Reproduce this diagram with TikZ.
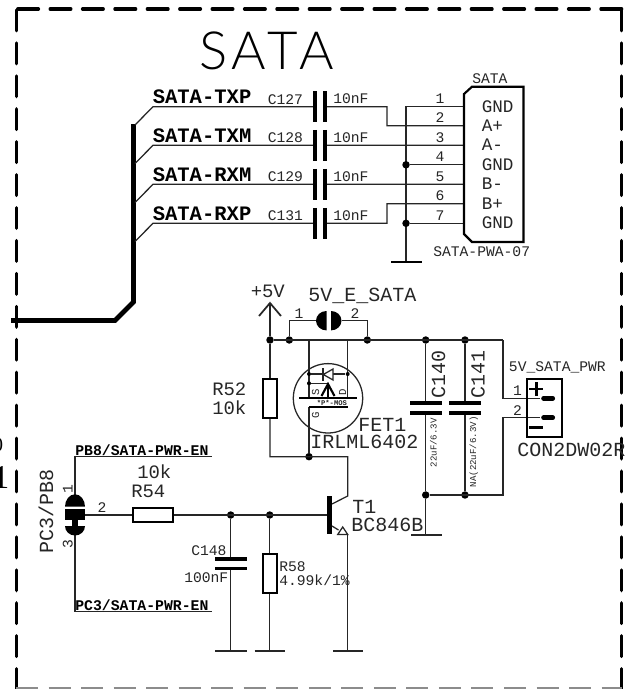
\documentclass[tikz,border=0pt]{standalone}
\usepackage{fontspec}
\setmainfont{Liberation Sans}
\setmonofont{Liberation Mono}
\newfontfamily\serifcut{Liberation Serif}
\newfontfamily\titlef[LetterSpace=9.5]{Lato Light}
\tikzset{
  wire/.style={line width=0.95pt,draw=black!85},
  thick wire/.style={line width=3.7pt,draw=black,line cap=butt,line join=miter},
  bordV/.style={line width=2.4pt,draw=black,line cap=round,dash pattern=on 15.6pt off 9.1pt},
  bordH/.style={line width=2.4pt,draw=black,line cap=round,dash pattern=on 15.6pt off 8.7pt},
  bordB/.style={line width=0.9pt,draw=black!45,dash pattern=on 16.5pt off 7.9pt},
  plate/.style={line width=2.8pt,draw=black},
  outline/.style={line width=1.6pt,draw=black,fill=white},
  jdot/.style={circle,fill=black,inner sep=0pt,minimum size=5.6pt},
  sdot/.style={circle,fill=black,inner sep=0pt,minimum size=3pt},
  lbl/.style={inner sep=0pt,anchor=base west,text=black!85},
  big/.style={lbl,text=black,font=\titlef\fontsize{39.5}{40}\selectfont},
  f20/.style={lbl,font=\ttfamily\fontsize{15}{15}\selectfont},
  f19/.style={lbl,font=\ttfamily\fontsize{14.2}{15}\selectfont},
  f17/.style={lbl,font=\ttfamily\fontsize{13.2}{14}\selectfont},
  f15/.style={lbl,font=\ttfamily\fontsize{11}{12}\selectfont},
  bus/.style={lbl,text=black,font=\ttfamily\bfseries\fontsize{15.4}{16}\selectfont},
  net/.style={lbl,text=black,font=\ttfamily\bfseries\fontsize{11.1}{12}\selectfont},
  tiny/.style={lbl,font=\ttfamily\fontsize{6.8}{7}\selectfont},
  fet/.style={lbl,font=\ttfamily\fontsize{8}{9}\selectfont},
  mos/.style={lbl,font=\ttfamily\bfseries\fontsize{5.4}{6}\selectfont},
}
\begin{document}
\begin{tikzpicture}[x=0.75pt,y=-0.75pt]
\useasboundingbox (0,0) rectangle (634,689);
\clip (0,0) rectangle (634,689);
\fill[white] (0,0) rectangle (634,689);
% border
\draw[bordV] (16.5,10) -- (16.5,690);
\draw[bordV] (621.7,10) -- (621.7,690);
\draw[bordH] (621.7,9) -- (16.5,9);
\draw[bordB] (16,688) -- (622,688);
% cut text at the left edge
\node[lbl,text=black,font=\serifcut\fontsize{15}{15}\selectfont,anchor=base east] (cutA) at (3.5,451) {0};
\node[lbl,text=black,font=\serifcut\fontsize{25}{25}\selectfont,anchor=base east] (cutB) at (9.5,488) {1};
% title
\node[big] (title) at (199,69) {SATA};
% bus
\coordinate (busTop) at (133.5,124);
\coordinate (busBend) at (133.5,302);
\coordinate (busBend2) at (115,320.5);
\coordinate (busEnd) at (11,320.5);
\draw[thick wire] (busTop) -- (busBend) -- (busBend2) -- (busEnd);
% connector pins
\foreach \n/\y in {1/106.7,2/125.7,3/145.3,4/164.8,5/184.3,6/203.7,7/223.3}{
  \coordinate (pin\n) at (464,\y);
}
% signal wires
\coordinate (tapA) at (135,125);
\coordinate (tapB) at (135,163.5);
\coordinate (tapC) at (135,202.5);
\coordinate (tapD) at (135,241.5);
\coordinate (netA) at (153,106.7);
\coordinate (netB) at (153,145.3);
\coordinate (netC) at (153,184.3);
\coordinate (netD) at (153,223.3);
\draw[wire] (tapA) -- (netA) -- (387,106.7) |- (pin2);
\draw[wire] (tapB) -- (netB) -- (pin3);
\draw[wire] (tapC) -- (netC) -- (pin5);
\draw[wire] (tapD) -- (netD) -- (387,223.3) |- (pin6);
% ground rail
\coordinate (gndS) at (406,262);
\draw[wire] (pin1) -- (406,106.7) -- (gndS);
\node[jdot] (j4) at (406,164.8) {};
\node[jdot] (j7) at (406,223.3) {};
\draw[wire] (j4) -- (pin4);
\draw[wire] (j7) -- (pin7);
\draw[plate,line width=1.6pt] (391,262) -- (422,262);
% coupling capacitors
\foreach \y in {106.7,145.3,184.3,223.3}{
  \fill[white] (316.5,\y-2) rectangle (323,\y+2);
  \draw[plate,line width=3pt] (314.5,\y-15.5) -- (314.5,\y+15.5);
  \draw[plate,line width=3pt] (325,\y-15.5) -- (325,\y+15.5);
}
% labels left
\node[bus] (lTXP) at (152.5,103.5) {SATA-TXP};
\node[bus] (lTXM) at (152.5,142) {SATA-TXM};
\node[bus] (lRXM) at (152.5,181) {SATA-RXM};
\node[bus] (lRXP) at (152.5,220) {SATA-RXP};
\node[f15] (c127) at (267.5,104) {C127};
\node[f15] (c128) at (267.5,142.5) {C128};
\node[f15] (c129) at (267.5,181.5) {C129};
\node[f15] (c131) at (267.5,220.5) {C131};
\node[f15] (v127) at (333,103.5) {10nF};
\node[f15] (v128) at (333,142) {10nF};
\node[f15] (v129) at (333,181) {10nF};
\node[f15] (v131) at (333,220) {10nF};
% SATA connector
\draw[outline] (464,94) -- (472,86.7) -- (523.5,86.7) -- (523.5,242) -- (472,242) -- (464,234) -- cycle;
\foreach \n/\y in {1/106.7,2/125.7,3/145.3,4/164.8,5/184.3,6/203.7,7/223.3}{
  \node[f15,anchor=base] (num\n) at (440,\y-3) {\n};
}
\node[f17] (pG1) at (481.5,112) {GND};
\node[f17] (pAp) at (481.5,131) {A+};
\node[f17] (pAm) at (481.5,150.5) {A-};
\node[f17] (pG2) at (481.5,170) {GND};
\node[f17] (pBm) at (481.5,189.5) {B-};
\node[f17] (pBp) at (481.5,209) {B+};
\node[f17] (pG3) at (481.5,228.5) {GND};
\node[f15] (cname) at (472,83.5) {SATA};
\node[f15] (cval) at (433,256.7) {SATA-PWA-07};
% +5V
\coordinate (vTip) at (270,303);
\node[jdot] (j5v) at (270,340) {};
\node[jdot] (jS1) at (289.3,340) {};
\node[jdot] (jS2) at (367.3,340) {};
\node[jdot] (jC1) at (425.7,340) {};
\node[jdot] (jC2) at (465,340) {};
\coordinate (pwrCorner) at (503,340);
\draw[wire] (j5v) -- (pwrCorner);
\draw[wire] (vTip) -- (j5v);
\draw[wire,line width=1.3pt] (259,316) -- (vTip) -- (281,316);
\node[f19] (lv5) at (250.5,297) {+5V};
\node[f20] (lsj) at (308,301) {5V\_E\_SATA};
% solder jumper top
\fill[black] (326.5,311) arc[start angle=270,end angle=90,x radius=10.5,y radius=9.7] -- cycle;
\fill[black] (331,311) arc[start angle=-90,end angle=90,x radius=10.5,y radius=9.7] -- cycle;
\coordinate (sjL) at (316,320.7);
\coordinate (sjR) at (341.5,320.7);
\draw[wire] (jS1) |- (sjL);
\draw[wire] (jS2) |- (sjR);
\node[f15,anchor=base] (sj1) at (299,318) {1};
\node[f15,anchor=base] (sj2) at (355,318) {2};
% R52
\node[jdot] (jG) at (309,456.7) {};
\coordinate (r52t) at (270,379);
\coordinate (r52b) at (270,418);
\coordinate (corT) at (347.7,456.7);
\coordinate (colEnd) at (347.7,496);
\coordinate (baseTop) at (332,504);
\draw[wire] (j5v) -- (r52t);
\draw[wire] (r52b) -- (270,456.7) -- (corT) -- (colEnd) -- (baseTop);
\draw[outline] (263.3,379) rectangle (276.7,418);
\node[f19] (lR52) at (212,395) {R52};
\node[f19] (vR52) at (212,414) {10k};
% FET
\coordinate (fS) at (309,340);
\coordinate (fD) at (347.7,340);
\draw[wire] (fS) -- (309,398);
\draw[wire] (fD) -- (347.7,398);
\draw[wire] (jG) -- (309,407);
\draw[wire] (328,398.3) circle[radius=34.7];
\draw[line width=1.6pt,draw=black] (299.3,398) -- (357,398);
\draw[line width=1.6pt,draw=black] (309,407) -- (348.3,407);
\node[sdot] (dA) at (309,374) {};
\node[sdot] (dB) at (347.7,374) {};
\node[sdot] (dC) at (309,383.3) {};
\draw[wire] (dA) -- (dB);
\draw[wire] (dC) -- (328,383.3);
\draw[wire,fill=white] (333,369) -- (333,380) -- (323.3,374.5) -- cycle;
\draw[wire,line width=1.3pt] (323.3,368) -- (323.3,381);
\draw[line width=2pt,draw=black] (328,385) -- (328,398);
\draw[line width=1.6pt,draw=black] (321.5,396) -- (328,384) -- (334.5,396);
\node[fet,rotate=90] (fs) at (319,396) {S};
\node[fet,rotate=90] (fd) at (346,396) {D};
\node[fet,rotate=90] (fg) at (319,419) {G};
\node[mos] (fm) at (316.5,405.5) {*P*-MOS};
\node[f20] (lFET) at (358,431) {FET1};
\node[f20] (vFET) at (310,448) {IRLML6402};
% output caps
\coordinate (pwrLow) at (503,398.3);
\coordinate (pwrLow2) at (503,417.7);
\node[jdot] (jB1) at (425.7,495) {};
\node[jdot] (jB2) at (465,495) {};
\coordinate (retCorner) at (503,495);
\coordinate (gndC) at (425.7,534.7);
\draw[wire] (jC1) -- (jB1) -- (gndC);
\draw[wire] (jC2) -- (jB2);
\draw[wire] (jB1) -- (retCorner) -- (pwrLow2) -- (540,417.7);
\draw[wire] (pwrCorner) -- (pwrLow) -- (540,398.3);
\fill[white] (405,405) rectangle (485,410.5);
\draw[plate] (410,402.8) -- (441.5,402.8);
\draw[plate] (410,412.8) -- (441.5,412.8);
\draw[plate] (449,402.8) -- (480.5,402.8);
\draw[plate] (449,412.8) -- (480.5,412.8);
\draw[wire,line width=1.6pt] (411,534.7) -- (441.5,534.7);
\node[f20,rotate=90] (lC140) at (445,398.5) {C140};
\node[f20,rotate=90] (lC141) at (484.5,398.5) {C141};
\node[tiny,rotate=90] (vC140) at (436.5,467.5) {22uF/6.3V};
\node[tiny,rotate=90] (vC141) at (476,487.5) {NA(22uF/6.3V)};
% power connector
\draw[outline,fill=none] (527.3,379) rectangle (562.3,437.3);
\draw[line width=2.2pt,draw=black] (529.3,389) -- (543.3,389);
\draw[line width=2.2pt,draw=black] (536.2,382) -- (536.2,395.5);
\draw[line width=2.2pt,draw=black] (529.3,427.7) -- (543.3,427.7);
\draw[line width=3.4pt,draw=black,line cap=round] (543.5,398.3) -- (552.8,398.3);
\draw[line width=3.4pt,draw=black,line cap=round] (543.5,417.7) -- (552.8,417.7);
\node[f15,anchor=base] (pp1) at (517.5,395.5) {1};
\node[f15,anchor=base] (pp2) at (517.5,415) {2};
\node[f15] (lpw) at (508.7,371) {5V\_SATA\_PWR};
\node[f20] (vpw) at (517,456) {CON2DW02R};
% transistor
\draw[line width=3.8pt,draw=black] (329.3,496) -- (329.3,534);
\coordinate (emA) at (332,526);
\coordinate (emB) at (338.5,530);
\draw[wire] (emA) -- (emB);
\draw[wire,fill=white] (342.7,527) -- (337.7,534.5) -- (347.7,534.5) -- cycle;
\coordinate (gndE) at (347.7,651);
\draw[wire] (347.7,534.5) -- (gndE);
\draw[wire,line width=1.6pt] (333,651) -- (363,651);
\node[f20] (lT1) at (352,513.5) {T1};
\node[f20] (vT1) at (351,531.5) {BC846B};
% base line and RC
\coordinate (sel2) at (85,515);
\coordinate (baseP) at (327,515);
\node[jdot] (jR1) at (230.7,515) {};
\node[jdot] (jR2) at (269.7,515) {};
\draw[wire] (sel2) -- (baseP);
\draw[outline] (133,507.7) rectangle (173,522);
\node[f19] (vR54) at (137,478) {10k};
\node[f19] (lR54) at (131,497.7) {R54};
\node[f15,anchor=base] (sel2n) at (102,512) {2};
% C148
\coordinate (gnd148) at (230.7,651);
\coordinate (gnd58) at (269.7,651);
\draw[wire] (jR1) -- (gnd148);
\fill[white] (214,561) rectangle (247,567);
\draw[plate] (215,559.3) -- (246.5,559.3);
\draw[plate] (215,568.5) -- (246.5,568.5);
\draw[wire,line width=1.6pt] (215,651) -- (246.5,651);
\node[f15] (lC148) at (191,555) {C148};
\node[f15] (vC148) at (184,582) {100nF};
% R58
\draw[wire] (jR2) -- (gnd58);
\draw[outline] (262.7,554) rectangle (277,593.3);
\draw[wire,line width=1.6pt] (254.7,651) -- (285,651);
\node[f15] (lR58) at (279,571) {R58};
\node[f15] (vR58) at (279,585) {4.99k/1\%};
% selector jumper
\coordinate (selT) at (75,495);
\coordinate (selB) at (75,535);
\coordinate (enT) at (212,456.7);
\coordinate (enB) at (212,611.7);
\draw[wire] (selT) |- (enT);
\draw[wire] (selB) |- (enB);
\fill[black] (65,506.7) arc[start angle=180,end angle=360,x radius=10,y radius=12.4] -- cycle;
\fill[black] (65,509) rectangle (85,520);
\fill[black] (72,520) rectangle (78,526);
\fill[black] (65,526) arc[start angle=180,end angle=0,x radius=10,y radius=9.5] -- cycle;
\node[net] (lPB) at (75,455) {PB8/SATA-PWR-EN};
\node[net] (lPC) at (75,610) {PC3/SATA-PWR-EN};
\node[f15,rotate=90,anchor=base] (sel1n) at (72.5,489) {1};
\node[f15,rotate=90,anchor=base] (sel3n) at (72.5,544) {3};
\node[f20,rotate=90] (lsel) at (53,554) {PC3/PB8};
\end{tikzpicture}
\end{document}
